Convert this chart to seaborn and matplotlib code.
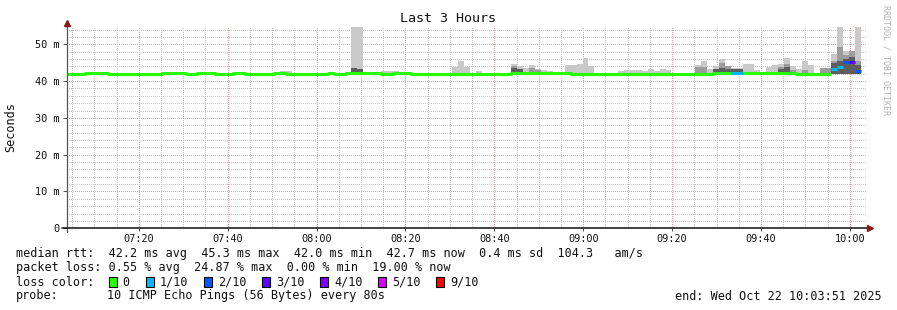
import numpy as np
import pandas as pd
import matplotlib
matplotlib.use("Agg")
import matplotlib.pyplot as plt
import seaborn as sns
from matplotlib.patches import Rectangle
from matplotlib.ticker import MultipleLocator, FixedLocator, FuncFormatter

# ---------------- data ----------------
start_min = 7 * 60 + 3 + 51 / 60.0      # 07:03:51 in minutes of day
step_min = 80 / 60.0                    # one sample every 80 s
n_steps = 135
y_top = 54.7

# median rtt (ms) as runs: step index where a run starts, and its value
median_run_start = [0, 3, 7, 16, 20, 22, 25, 28, 30, 35, 37, 44, 45, 47, 53,
                    55, 58, 75, 85, 109, 123, 129, 130, 131, 132, 133]
median_run_ms = [42.0, 42.3, 42.0, 42.3, 42.0, 42.3, 42.0, 42.3, 42.0, 42.3,
                 42.0, 42.3, 42.0, 42.3, 42.0, 42.3, 42.0, 42.3, 42.0, 42.3,
                 42.0, 43.4, 43.7, 45.3, 45.2, 42.7]
last_data_step = 134   # exclusive

# packet loss (pings lost out of 10) where not zero
loss_steps = [112, 113, 129, 130, 131, 132, 133]
loss_tenths = [1, 1, 1, 1, 2, 3, 2]

# smoke (distribution of the 10 pings) per step
nan = np.nan
smoke_steps = [36, 37, 48, 49, 53, 54, 55, 65, 66, 67, 69,
               75, 76, 77, 78, 79, 80, 81, 84, 85, 86, 87, 88,
               93, 94, 95, 96, 97, 98, 99, 100, 101,
               106, 107, 108, 109, 110, 111, 112, 113, 114, 115, 116,
               118, 119, 120, 121, 122, 123, 124, 125, 127, 128,
               129, 130, 131, 132, 133]
smoke_max = [42.7, 42.7, 54.7, 54.7, 42.7, 42.7, 42.7, 43.9, 45.5, 43.9, 42.7,
             44.6, 44.1, 43.5, 44.4, 43.2, 43.0, 42.7, 44.4, 44.4, 44.6, 46.3, 44.1,
             42.7, 43.0, 43.0, 43.0, 42.7, 43.3, 42.7, 43.3, 43.0,
             44.4, 45.5, 43.2, 44.1, 46.0, 44.2, 43.6, 43.6, 44.6, 44.6, 43.0,
             43.8, 44.4, 44.6, 46.3, 44.1, 43.3, 45.5, 44.4, 43.5, 43.5,
             47.4, 54.7, 48.2, 48.2, 54.7]
smoke_mid = [nan, nan, nan, nan, nan, nan, nan, nan, nan, nan, nan,
             44.1, nan, nan, 43.5, 43.0, nan, nan, nan, nan, nan, nan, nan,
             nan, nan, nan, nan, nan, nan, nan, nan, nan,
             43.8, 43.8, nan, nan, 45.0, 44.0, nan, nan, nan, nan, nan,
             nan, nan, 43.8, 44.6, 43.0, nan, 43.0, nan, 43.5, 43.5,
             45.5, 49.3, 47.2, 48.2, 45.5]
smoke_dark = [nan, nan, 43.6, 43.3, nan, nan, nan, nan, nan, nan, nan,
              43.5, 43.3, nan, nan, nan, nan, nan, nan, nan, nan, nan, nan,
              nan, nan, nan, nan, nan, nan, nan, nan, nan,
              nan, nan, nan, 43.2, 43.6, 43.2, 43.2, 43.2, nan, nan, nan,
              nan, nan, 43.2, 43.8, nan, nan, nan, nan, nan, nan,
              45.0, 45.5, 46.0, 46.6, 44.4]
smoke_floor_ms = 42.0
smoke_below_steps = [109, 131, 133]
smoke_below_ms = [41.8, 41.8, 41.8]

loss_labels = ["0", "1/10", "2/10", "3/10", "4/10", "5/10", "9/10"]
loss_colors = ["#26ff00", "#00b8ff", "#0059ff", "#5e00ff", "#7e00ff", "#dd00ff", "#ff0000"]
loss_color_of = {0: 0, 1: 1, 2: 2, 3: 3, 4: 4, 5: 5, 9: 6}

x_tick_minutes = [440, 460, 480, 500, 520, 540, 560, 580, 600]
y_ticks_ms = [0, 10, 20, 30, 40, 50]

stats_rtt = "median rtt:  42.2 ms avg  45.3 ms max  42.0 ms min  42.7 ms now  0.4 ms sd  104.3   am/s"
stats_loss = "packet loss: 0.55 % avg  24.87 % max  0.00 % min  19.00 % now"
probe_text = "10 ICMP Echo Pings (56 Bytes) every 80s"
end_text = "end: Wed Oct 22 10:03:51 2025"
title_text = "Last 3 Hours"

# ---------------- build tables ----------------
median = np.full(n_steps, np.nan)
bounds = median_run_start + [last_data_step]
for k in range(len(median_run_start)):
    median[bounds[k]:bounds[k + 1]] = median_run_ms[k]
loss = np.zeros(n_steps, dtype=int)
for s, l in zip(loss_steps, loss_tenths):
    loss[s] = l
t = start_min + np.arange(n_steps) * step_min

smoke = pd.DataFrame({"step": smoke_steps, "max": smoke_max,
                      "mid": smoke_mid, "dark": smoke_dark})
smoke["t"] = start_min + smoke["step"] * step_min
smoke["min"] = smoke_floor_ms
for s, v in zip(smoke_below_steps, smoke_below_ms):
    smoke.loc[smoke["step"] == s, "min"] = v

# ---------------- figure ----------------
sns.set_theme(style="white")
plt.rcParams["font.family"] = ["DejaVu Sans Mono", "DejaVu Sans"]

W, H = 897, 310
fig = plt.figure(figsize=(W / 100, H / 100), dpi=100)
fig.patch.set_facecolor("white")
x0, x1 = 67, 867
yb, yt = 228.3, 27.0
ax = fig.add_axes([x0 / W, 1 - yb / H, (x1 - x0) / W, (yb - yt) / H])
ax.set_facecolor("white")
ax.set_xlim(start_min, start_min + n_steps * step_min)
ax.set_ylim(0, y_top)

# grid (1px dotted lines)
ax.set_axisbelow(True)
ax.xaxis.set_major_locator(FixedLocator(x_tick_minutes))
ax.xaxis.set_minor_locator(MultipleLocator(5))
ax.yaxis.set_major_locator(FixedLocator(y_ticks_ms))
ax.yaxis.set_minor_locator(MultipleLocator(2))
ax.grid(which="major", color="#f29a9a", linestyle=(0.5, (1, 1)), linewidth=0.72)
ax.grid(which="minor", color="#c6c6c6", linestyle=(0.5, (1, 1)), linewidth=0.72)

# smoke
ax.bar(smoke["t"], smoke["max"] - smoke["min"], bottom=smoke["min"], width=step_min,
       align="edge", color="#c9c9c9", linewidth=0, zorder=2)
m = smoke["mid"].notna()
ax.bar(smoke.loc[m, "t"], smoke.loc[m, "mid"] - smoke.loc[m, "min"], bottom=smoke.loc[m, "min"],
       width=step_min, align="edge", color="#9c9c9c", linewidth=0, zorder=3)
d = smoke["dark"].notna()
ax.bar(smoke.loc[d, "t"], smoke.loc[d, "dark"] - smoke.loc[d, "min"], bottom=smoke.loc[d, "min"],
       width=step_min, align="edge", color="#5e5e5e", linewidth=0, zorder=4)

# median line (loss 0 part via seaborn, loss>0 steps coloured on top)
green_end = 129
med_df = pd.DataFrame({"t": np.append(t[:green_end], t[green_end - 1] + step_min),
                       "median": np.append(median[:green_end], median[green_end - 1])})
sns.lineplot(data=med_df, x="t", y="median", ax=ax, color=loss_colors[0], lw=2.2,
             drawstyle="steps-post", estimator=None, sort=False, zorder=6,
             solid_capstyle="butt")
for i in range(n_steps):
    if np.isnan(median[i]):
        continue
    if loss[i] > 0 or i >= green_end:
        ax.hlines(median[i], t[i], t[i] + step_min, colors=loss_colors[loss_color_of[loss[i]]],
                  lw=2.2, zorder=7)

ax.set_xlabel("")
ax.set_ylabel("")

# axes lines and arrows
for s in ax.spines.values():
    s.set_visible(False)
ax.plot([0, 0], [-0.02, 1.025], transform=ax.transAxes, color="#555555", lw=0.9,
        clip_on=False, zorder=10)
ax.plot([-0.006, 1.003], [0, 0], transform=ax.transAxes, color="#111111", lw=1.1,
        clip_on=False, zorder=10)
ax.plot([0], [1.02], marker="^", ms=5, color="#8a1a1a", transform=ax.transAxes,
        clip_on=False, zorder=11)
ax.plot([1.004], [0], marker=">", ms=5, color="#8a1a1a", transform=ax.transAxes,
        clip_on=False, zorder=11)

# ticks
ax.yaxis.set_major_formatter(FuncFormatter(lambda v, p: "0" if v == 0 else f"{int(v)} m"))
ax.xaxis.set_major_formatter(FuncFormatter(lambda v, p: f"{int(v)//60:02d}:{int(v)%60:02d}"))
ax.tick_params(axis="y", which="major", direction="out", length=3, width=0.8,
               color="#555555", pad=2.5, labelsize=7.4, labelcolor="#111111", left=True)
ax.tick_params(axis="x", which="major", direction="out", length=2.5, width=0.8,
               color="#555555", pad=1.5, labelsize=7.4, labelcolor="#111111", bottom=True)
ax.tick_params(axis="both", which="minor", length=0)

# texts
fs = 8.5
fig.text(448 / W, 1 - 19 / H, title_text, ha="center", va="center", fontsize=9.6, color="#111111")
fig.text(11 / W, 1 - 127 / H, "Seconds", rotation=90, ha="center", va="center", fontsize=fs,
         color="#111111")
fig.text(886 / W, 1 - 60 / H, "RRDTOOL / TOBI OETIKER", rotation=270, ha="center", va="center",
         fontsize=6, color="#b4b4b4")

fig.text(16 / W, 1 - 254 / H, stats_rtt, ha="left", va="center", fontsize=fs, color="#111111")
fig.text(16 / W, 1 - 268 / H, stats_loss, ha="left", va="center", fontsize=fs, color="#111111")
fig.text(16 / W, 1 - 282 / H, "loss color:", ha="left", va="center", fontsize=fs, color="#111111")
box_x = [109, 146, 204, 262, 320, 378, 436]
lab_x = [122, 160, 218, 276, 334, 392, 450]
for bx, lx, lab, col in zip(box_x, lab_x, loss_labels, loss_colors):
    fig.patches.append(Rectangle((bx / W, 1 - 287 / H), 8 / W, 10 / H, transform=fig.transFigure,
                                 facecolor=col, edgecolor="black", linewidth=0.8))
    fig.text(lx / W, 1 - 282 / H, lab, ha="left", va="center", fontsize=fs, color="#111111")
fig.text(16 / W, 1 - 296 / H, "probe:", ha="left", va="center", fontsize=fs, color="#111111")
fig.text(107 / W, 1 - 296 / H, probe_text, ha="left", va="center", fontsize=fs, color="#111111")
fig.text(882 / W, 1 - 296 / H, end_text, ha="right", va="center", fontsize=fs, color="#111111")

fig.savefig("out.png", dpi=100, facecolor="white")
